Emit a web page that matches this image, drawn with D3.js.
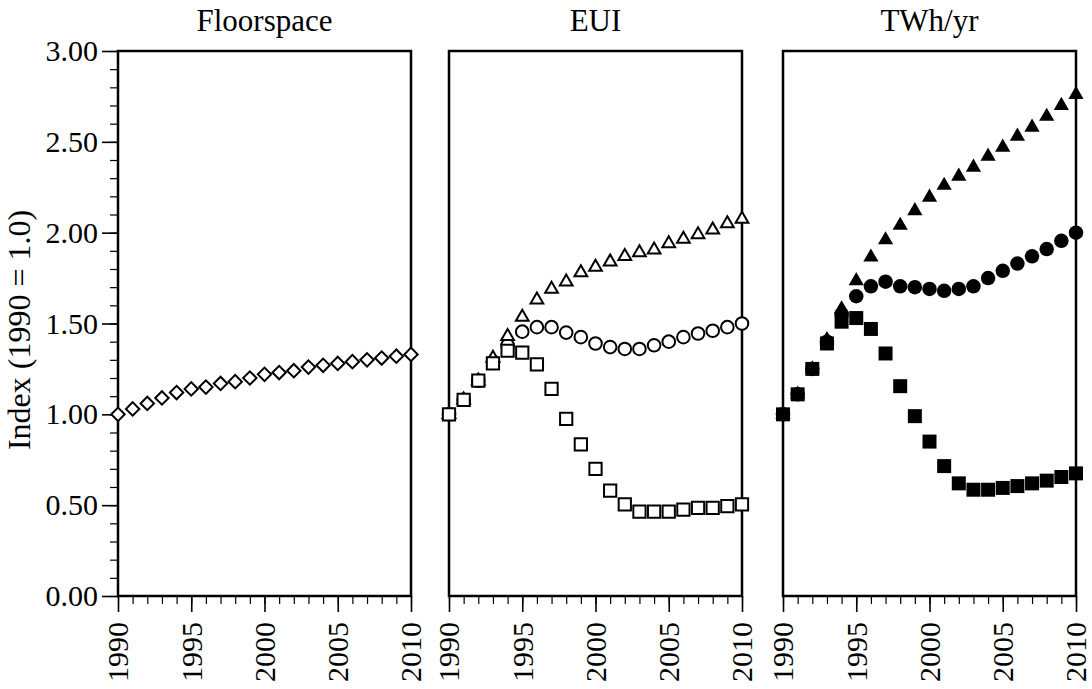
<!DOCTYPE html>
<html>
<head>
<meta charset="utf-8">
<script src="https://cdn.jsdelivr.net/npm/d3@7"></script>
<style>
  html, body { margin: 0; padding: 0; background: #fff; }
  svg { display: block; }
  text { font-family: "Liberation Serif", "Times New Roman", serif; fill: #000; }
</style>
</head>
<body>
<svg id="chart" width="1092" height="689"></svg>
<script>
// Index values relative to 1990 (1990 = 1.0)
const years = d3.range(1990, 2011);

const floorspace = [1.00, 1.03, 1.06, 1.09, 1.12, 1.14, 1.15, 1.17, 1.18, 1.20, 1.22,
                    1.23, 1.24, 1.26, 1.27, 1.28, 1.29, 1.30, 1.31, 1.32, 1.33];

const euiSquares   = [1.00, 1.08, 1.185, 1.28, 1.35, 1.34, 1.275, 1.14, 0.975, 0.835, 0.70,
                      0.58, 0.505, 0.465, 0.465, 0.465, 0.475, 0.485, 0.485, 0.495, 0.505];
const euiCircles   = [1.00, 1.08, 1.185, 1.29, 1.38, 1.455, 1.48, 1.48, 1.45, 1.425, 1.39,
                      1.37, 1.36, 1.36, 1.38, 1.40, 1.425, 1.445, 1.46, 1.48, 1.50];
const euiTriangles = [1.00, 1.08, 1.185, 1.31, 1.43, 1.535, 1.63, 1.69, 1.73, 1.78, 1.81,
                      1.84, 1.87, 1.89, 1.905, 1.94, 1.965, 1.99, 2.015, 2.05, 2.075];

const twhSquares   = [1.00, 1.11, 1.25, 1.39, 1.51, 1.53, 1.47, 1.335, 1.155, 0.99, 0.85,
                      0.715, 0.62, 0.585, 0.585, 0.595, 0.605, 0.62, 0.635, 0.655, 0.675];
const twhCircles   = [1.00, 1.11, 1.25, 1.40, 1.55, 1.65, 1.705, 1.73, 1.705, 1.70, 1.69,
                      1.68, 1.69, 1.705, 1.75, 1.79, 1.83, 1.87, 1.91, 1.955, 2.00];
const twhTriangles = [1.00, 1.11, 1.25, 1.41, 1.58, 1.735, 1.865, 1.96, 2.04, 2.12, 2.195,
                      2.26, 2.31, 2.36, 2.42, 2.47, 2.53, 2.58, 2.64, 2.70, 2.76];

const panelTitles = ["Floorspace", "EUI", "TWh/yr"];
const yTickValues = [0, 0.5, 1.0, 1.5, 2.0, 2.5, 3.0];
const xTickValues = [1990, 1995, 2000, 2005, 2010];
const yAxisTitle = "Index (1990 = 1.0)";

// Layout
const svg = d3.select("#chart");
const plotTop = 51, plotBottom = 596, panelW = 293;
const panelLefts = [118, 449, 783];

const y = d3.scaleLinear().domain([0, 3]).range([plotBottom, plotTop]);

// Symbol generators
const sym = {
  diamond:  { type: d3.symbolSquare,   size: 90,  rot: 45, filled: false },
  squareO:  { type: d3.symbolSquare,   size: 150, rot: 0,  filled: false },
  circleO:  { type: d3.symbolCircle,   size: 125, rot: 0,  filled: false },
  triO:     { type: d3.symbolTriangle, size: 70,  rot: 0,  filled: false },
  squareF:  { type: d3.symbolSquare,   size: 196, rot: 0,  filled: true },
  circleF:  { type: d3.symbolCircle,   size: 165, rot: 0,  filled: true },
  triF:     { type: d3.symbolTriangle, size: 100, rot: 0,  filled: true }
};

const panels = [
  { series: [{ values: floorspace, s: sym.diamond }] },
  { series: [
      { values: euiCircles, s: sym.circleO },
      { values: euiTriangles, s: sym.triO },
      { values: euiSquares, s: sym.squareO }
  ] },
  { series: [
      { values: twhTriangles, s: sym.triF },
      { values: twhCircles, s: sym.circleF },
      { values: twhSquares, s: sym.squareF }
  ] }
];

panels.forEach((p, i) => {
  const left = panelLefts[i];
  const x = d3.scaleLinear().domain([1990, 2010]).range([left, left + panelW]);
  const g = svg.append("g");

  // Minor and major year ticks
  g.append("g")
    .attr("transform", `translate(0,${plotBottom})`)
    .call(d3.axisBottom(x).tickValues(years).tickSize(8).tickFormat(""))
    .call(a => a.select(".domain").remove())
    .call(a => a.selectAll("line").attr("stroke-width", 1.2));

  const xa = g.append("g")
    .attr("transform", `translate(0,${plotBottom})`)
    .call(d3.axisBottom(x).tickValues(xTickValues).tickSize(16).tickFormat(d3.format("d")));
  xa.select(".domain").remove();
  xa.selectAll("line").attr("stroke-width", 1.6);
  xa.selectAll("text")
    .attr("transform", "rotate(-90)")
    .attr("text-anchor", "end")
    .attr("x", -26)
    .attr("y", 0)
    .attr("dy", "0.33em")
    .style("font-size", "30px")
    .style("font-family", "'Liberation Serif', serif");

  // Value axis on the first panel only
  if (i === 0) {
    g.append("g")
      .attr("transform", `translate(${left},0)`)
      .call(d3.axisLeft(y).tickValues(d3.range(0, 3.01, 0.1)).tickSize(8).tickFormat(""))
      .call(a => a.select(".domain").remove())
      .call(a => a.selectAll("line").attr("stroke-width", 1.2));
    const ya = g.append("g")
      .attr("transform", `translate(${left},0)`)
      .call(d3.axisLeft(y).tickValues(yTickValues).tickSize(16).tickFormat(d3.format(".2f")));
    ya.select(".domain").remove();
    ya.selectAll("line").attr("stroke-width", 1.6);
    ya.selectAll("text")
      .attr("x", -20)
      .style("font-size", "30px")
      .style("font-family", "'Liberation Serif', serif");
  }

  // Panel frame
  g.append("rect")
    .attr("x", left).attr("y", plotTop)
    .attr("width", panelW).attr("height", plotBottom - plotTop)
    .attr("fill", "none").attr("stroke", "#000").attr("stroke-width", 2.5);

  // Title
  g.append("text")
    .attr("x", left + panelW / 2)
    .attr("y", 31)
    .attr("text-anchor", "middle")
    .style("font-size", "31px")
    .text(panelTitles[i]);

  // Markers
  p.series.forEach(ser => {
    const gen = d3.symbol().type(ser.s.type).size(ser.s.size);
    g.append("g").selectAll("path")
      .data(ser.values.map((v, k) => ({ year: years[k], v })))
      .join("path")
      .attr("d", gen)
      .attr("transform", d => `translate(${x(d.year)},${y(d.v)}) rotate(${ser.s.rot})`)
      .attr("fill", ser.s.filled ? "#000" : "#fff")
      .attr("stroke", ser.s.filled ? "none" : "#000")
      .attr("stroke-width", 2);
  });
});

// Value axis title
svg.append("text")
  .attr("transform", `translate(30,330) rotate(-90)`)
  .attr("text-anchor", "middle")
  .style("font-size", "32px")
  .text(yAxisTitle);
</script>
</body>
</html>
